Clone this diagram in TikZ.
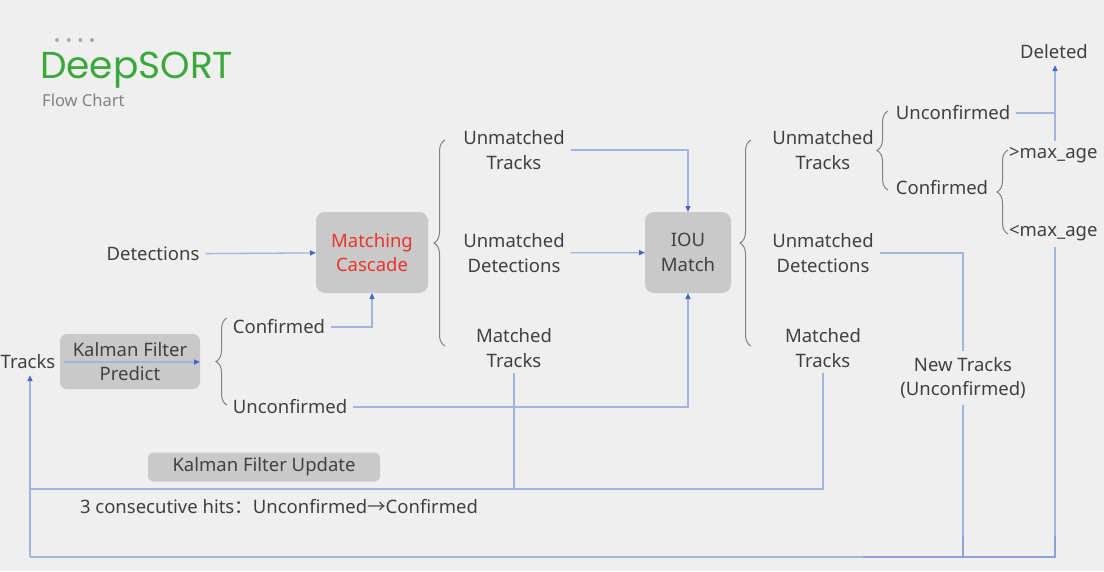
\documentclass[tikz,border=0pt]{standalone}
\usepackage{fontspec}
\setmainfont{Noto Sans}
\newfontfamily\titlefont{Poppins}
\newfontfamily\cjk{Noto Sans CJK SC}
\usetikzlibrary{arrows.meta, decorations.pathreplacing, positioning}
\definecolor{bggrey}{RGB}{239,239,239}
\definecolor{boxgrey}{RGB}{201,201,201}
\definecolor{wireblue}{RGB}{160,182,222}
\definecolor{tipblue}{RGB}{62,108,200}
\definecolor{textgrey}{RGB}{64,64,64}
\definecolor{bracegrey}{RGB}{130,130,130}
\definecolor{titlegreen}{RGB}{58,168,58}
\definecolor{cascadered}{RGB}{236,52,42}
\tikzset{
  tag/.style = {align=center, text=textgrey, inner sep=2pt, outer sep=4pt,
                font=\fontsize{18.5}{24.5}\selectfont},
  box/.style = {tag, fill=boxgrey, rounded corners=9pt, outer sep=0pt},
  wire/.style = {line width=1.3pt, draw=wireblue},
  link/.style = {wire, arrows={-Triangle[length=6pt, width=5pt, color=tipblue]}},
  joint/.style = {line width=2.6pt, draw=wireblue!75!tipblue},
  brace/.style = {decoration={brace, amplitude=11pt}, decorate,
                  draw=bracegrey, line width=1pt},
}

\begin{document}
\begin{tikzpicture}[x=1pt, y=-1pt]
  % Page and title
  \fill [bggrey] (0,0) rectangle (1104,571);
  \useasboundingbox (0,0) rectangle (1104,571);
  \foreach \i in {0,...,3}
    \fill [bracegrey!70!white] (57+\i*11.7, 40) circle (2pt);
  \node (title) [anchor=west, inner sep=0pt, text=titlegreen,
                 font=\titlefont\fontsize{37.5}{40}\selectfont] at (40,70) {DeepSORT};
  \node (subtitle) [anchor=west, inner sep=0pt, text=bracegrey,
                    font=\fontsize{16.5}{18}\selectfont] at (42,100) {Flow Chart};

  % Prediction stage
  \node (tracks) [tag] at (28,362) {Tracks};
  \node (kfp) [box, minimum width=140pt, minimum height=55pt, rounded corners=7pt]
    at (130,361.5) {Kalman Filter\\Predict};
  \node (conf) [tag] at (279,327) {Confirmed};
  \node (unconf) [tag] at (290,407) {Unconfirmed};
  \node (det) [tag] at (153,254) {Detections};

  % Matching cascade
  \node (mc) [box, text=cascadered, minimum width=112pt, minimum height=81pt]
    at (372,252.5) {Matching\\Cascade};
  \node (umt1) [tag] at (514,150) {Unmatched\\Tracks};
  \node (umd1) [tag] at (514,253) {Unmatched\\Detections};
  \node (mt1) [tag] at (514,348) {Matched\\Tracks};

  % IOU match
  \node (iou) [box, minimum width=86pt, minimum height=81pt]
    at (688,252.5) {IOU\\Match};
  \node (umt2) [tag] at (823,150) {Unmatched\\Tracks};
  \node (umd2) [tag] at (823,253) {Unmatched\\Detections};
  \node (mt2) [tag] at (823,348) {Matched\\Tracks};
  \node (newtr) [tag] at (963,378) {New Tracks\\(Unconfirmed)};

  % Track management
  \node (unconf2) [tag] at (953,113) {Unconfirmed};
  \node (conf2) [tag] at (942,188) {Confirmed};
  \node (gtage) [tag, anchor=west] at (1003,155) {>max\_age};
  \node (ltage) [tag, anchor=west] at (1003,233) {<max\_age};
  \node (deleted) [tag] at (1054,52) {Deleted};

  % Update stage
  \node (kfu) [box, minimum width=232pt, minimum height=29pt, rounded corners=5pt]
    at (264,467) {Kalman Filter Update};
  \node (hits) [tag, anchor=west] at (74,507)
    {3 consecutive hits{\cjk ：}Unconfirmed{\cjk →}Confirmed};

  \coordinate (base) at (30,557);
  \coordinate (corner) at (1055,557);
  \coordinate (fb) at (30,489);

  % Braces
  \draw [brace] (227,405) -- (227,318);
  \draw [brace] (445,346) -- (445,140);
  \draw [brace] (751,346) -- (751,140);
  \draw [brace] (888,190) -- (888,111);
  \draw [brace] (1008,234) -- (1008,150);

  % Links
  \draw [link, shorten <=3pt] (tracks.east) -- (tracks.east -| kfp.east);
  \draw [link] (det) -- (mc);
  \draw [link] (conf.east) -| (mc.south);
  \draw [link] (umt1.east) -| (iou.north);
  \draw [link] (umd1) -- (iou);
  \draw [link] (unconf.east) -| (iou.south);
  \draw [wire] (umd2.east) -| (newtr.north);
  \draw [wire] (newtr.south) -- (newtr.south |- corner);
  \draw [wire] (unconf2.east) -- (unconf2.east -| corner);
  \draw [link] (gtage.north -| corner) -- (deleted.south -| corner);

  % Feedback to tracks
  \draw [wire] (mt2.south) |- (fb);
  \draw [wire] (mt1.south) -- (mt1.south |- fb);
  \draw [wire] (ltage.south -| corner) -- (corner) -- (base);
  \draw [link] (base) -- (base |- tracks.south);
  \draw [joint] (newtr.south |- 0,536) -- (newtr.south |- corner);
  \draw [joint] (corner |- 0,536) -- (corner) -- +(-192,0);
\end{tikzpicture}
\end{document}
